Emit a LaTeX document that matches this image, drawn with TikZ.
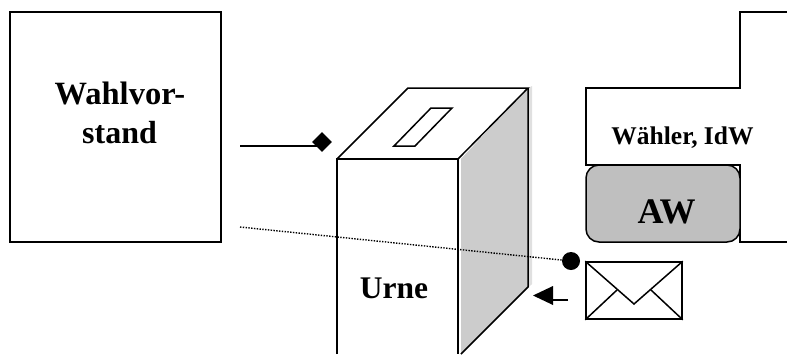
\documentclass[tikz,border=0pt]{standalone}
\usepackage{fontspec}
\setmainfont{Liberation Serif}
\usetikzlibrary{shapes.geometric}
\tikzset{
  ln/.style={draw=black,line width=1.5pt,line join=miter},
  lbl/.style={font=\bfseries\fontsize{#1}{#1}\selectfont,inner sep=0pt,text=black,align=center,anchor=base},
  lbl/.default=28
}
\begin{document}
\begin{tikzpicture}[x=1pt,y=-1pt]
\useasboundingbox (0,0) rectangle (787,354);
\begin{scope}
\clip (0,0) rectangle (787,354);
% left box
\node[ln,rectangle,minimum width=211pt,minimum height=230pt,inner sep=0pt] (wv) at (115.5,127) {};
\node[lbl=32.5] (wvt1) at (120,104) {Wahlvor-};
\node[lbl=32] (wvt2) at (119.5,143) {stand};
% urn
\fill[black!12] (461,354) -- (532,284) -- (532,86) -- (528,88) -- (461,159) -- cycle;
\fill[black!20] (461,354) -- (528,287) -- (528,88) -- (461,159) -- cycle;
\draw[ln] (337,354) -- (337,159) -- (458,159) -- (458,354);
\draw[ln] (337,159) -- (408,88) -- (528,88) -- (458,159);
\draw[ln] (528,88) -- (528,287) -- (461,354);
\draw[ln] (431,108) -- (452,108) -- (415,146) -- (394,146) -- cycle;
\node[lbl=31.5] (ur) at (394,298) {Urne};
% voter shape
\draw[ln] (787,12) -- (740,12) -- (740,88) -- (586,88) -- (586,165) -- (740,165) -- (740,242) -- (787,242);
\node[lbl=25.5] (wa) at (682.5,144) {Wähler, IdW};
\node[ln,rectangle,rounded corners=13pt,fill=black!25,minimum width=154pt,minimum height=77pt,inner sep=0pt] (aw) at (663,203.5) {};
\node[lbl=36] (awt) at (666.5,223.5) {AW};
% diamond
\node[diamond,fill=black,minimum width=20pt,minimum height=20pt,inner sep=0pt] (dm) at (322,142) {};
\coordinate (ls) at (240,146);
\coordinate (le) at (322,146);
\draw[ln] (ls) -- (le);
% dotted
\node[circle,fill=black,minimum size=18pt,inner sep=0pt] (dot) at (571,261) {};
\coordinate (ds) at (240,227);
\draw[black,line width=1.4pt,dash pattern=on 1.4pt off 1.4pt] (ds) -- (dot);
% arrow
\coordinate (as) at (568,300);
\coordinate (ae) at (553,300);
\draw[ln] (as) -- (ae);
\fill[black] (533,295.5) -- (553,286) -- (553,305) -- cycle;
% envelope
\node[ln,rectangle,minimum width=96pt,minimum height=57pt,inner sep=0pt] (env) at (634,290.5) {};
\draw[ln] (env.north west) -- (634,304) -- (env.north east);
\draw[ln] (env.south west) -- (617,290);
\draw[ln] (env.south east) -- (651,290);
\end{scope}
\end{tikzpicture}
\end{document}
